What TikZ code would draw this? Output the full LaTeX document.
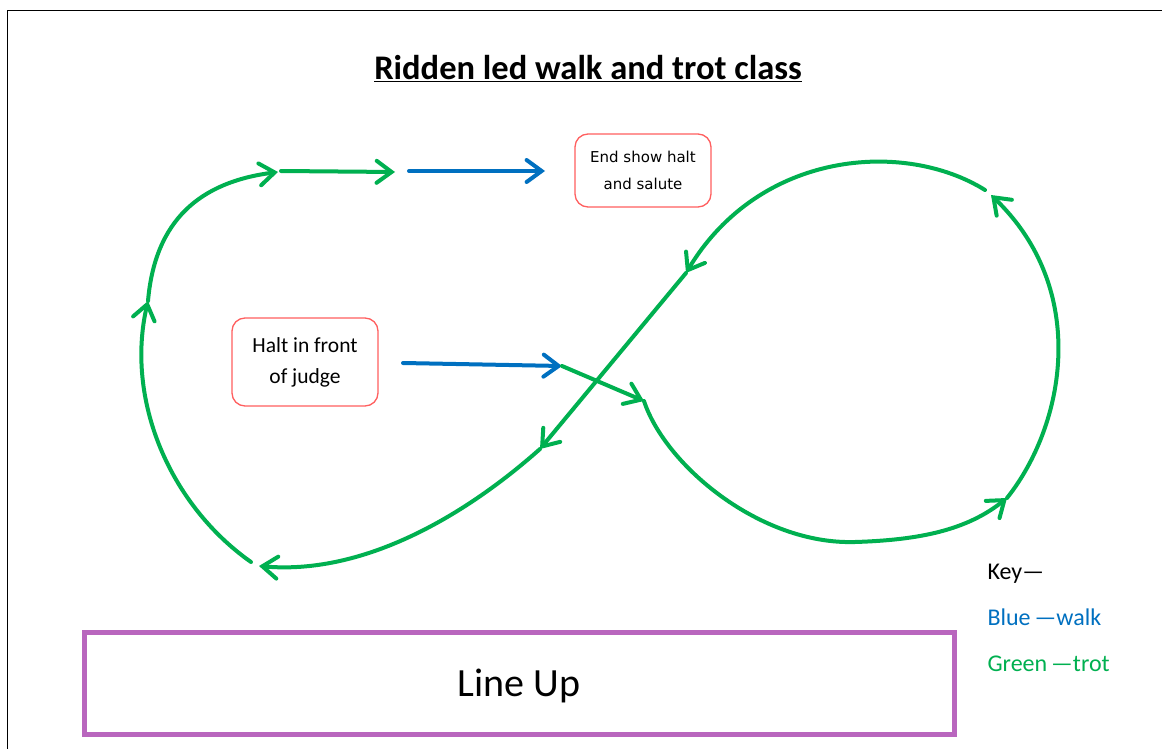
\documentclass[tikz,border=0pt]{standalone}
\usepackage{fontspec}
\setmainfont{Carlito}
\newfontfamily\tahomaish{DejaVu Sans}
\usetikzlibrary{arrows.meta}
\definecolor{trotc}{HTML}{00B050}
\definecolor{walkc}{HTML}{0070C0}
\definecolor{lineupc}{RGB}{185,102,190}
\definecolor{boxred}{RGB}{255,95,95}
\tikzset{
  trotarrow/.style={draw=trotc, line width=4pt, line cap=round,
    -{Straight Barb[length=15pt,width=22pt,line cap=round]}},
  walkarrow/.style={draw=walkc, line width=4pt, line cap=round,
    -{Straight Barb[length=15pt,width=22pt,line cap=round]}},
  notebox/.style={draw=boxred, line width=1.3pt, rounded corners=13pt, align=center, inner sep=0pt},
  keytext/.style={anchor=base west, font=\fontsize{24}{24}\selectfont},
}
\begin{document}
\begin{tikzpicture}[x=1pt,y=-1pt]
\useasboundingbox (0,0) rectangle (1162,749);
\fill[white] (0,0) rectangle (1162,749);
% frame
\draw[line width=1.7pt] (7.5,760) -- (7.5,10.5) -- (1170,10.5);

% title
\node[font=\bfseries\fontsize{34.5}{34.5}\selectfont] (title) at (588,69) {\underline{Ridden led walk and trot class}};

% boxes
\node[notebox, minimum width=146pt, minimum height=88pt, font=\fontsize{21.5}{31}\selectfont] (halt) at (305,362) {Halt in front\\of judge};
\node[notebox, minimum width=136pt, minimum height=73pt, font=\tahomaish\fontsize{15}{27}\selectfont] (endshow) at (643,170.5) {End show halt\\and salute};
\node[draw=lineupc, line width=5pt, minimum width=870pt, minimum height=102pt, inner sep=0pt, text depth=0pt, font=\fontsize{40}{40}\selectfont] (lineup) at (519,683) {Line Up};

% key
\node[keytext] (key) at (984,579) {Key—};
\node[keytext, text=walkc] (keywalk) at (984,625) {Blue\,—walk};
\node[keytext, text=trotc] (keytrot) at (984,671) {Green\,—trot};

% waypoints
\coordinate (L) at (251,562);
\coordinate (A) at (148,301);
\coordinate (B) at (278,172);
\coordinate (B2) at (281,171);
\coordinate (C) at (395,172);
\coordinate (D1) at (409,171);
\coordinate (D2) at (545,171);
\coordinate (E1) at (403,363);
\coordinate (E2) at (562,366);
\coordinate (F) at (644,401);
\coordinate (M) at (855,542);
\coordinate (G) at (1007,498);
\coordinate (H) at (991,195);
\coordinate (H2) at (985,190);
\coordinate (I) at (686,273);
\coordinate (J) at (540,449);
\coordinate (K) at (259,566);

% trot / walk paths
\draw[trotarrow] (L) .. controls (170,505) and (125,400) .. (A);
\draw[trotarrow] (A) .. controls (155,220) and (200,182) .. (B);
\draw[trotarrow] (B2) -- (C);
\draw[walkarrow] (D1) -- (D2);
\draw[walkarrow] (E1) -- (E2);
\draw[trotarrow] (E2) -- (F);
\draw[trotarrow] (F) .. controls (665,465) and (760,545) .. (M) .. controls (920,540) and (967,530) .. (G);
\draw[trotarrow] (G) .. controls (1065,425) and (1090,290) .. (H);
\draw[trotarrow] (H2) .. controls (905,140) and (760,150) .. (I);
\draw[trotarrow] (I) -- (J);
\draw[trotarrow] (J) .. controls (460,520) and (360,575) .. (K);
\end{tikzpicture}
\end{document}
